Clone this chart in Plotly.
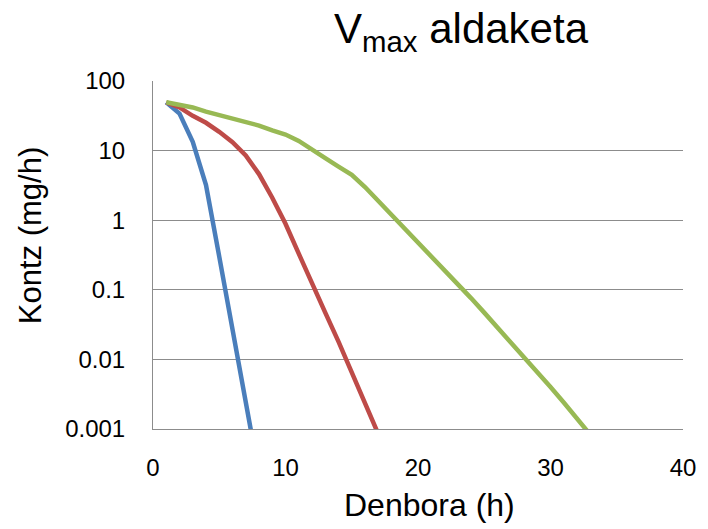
import plotly.graph_objects as go

# Time points (h) and concentrations (mg/h) for the three Vmax cases
t_blue = [1, 2, 3, 4, 5, 6, 7, 8]
c_blue = [49.4, 34.0, 13.4, 3.2, 0.30, 0.028, 0.0025, 0.00022]

t_red = list(range(1, 18))
c_red = [49.4, 41.7, 31.6, 25.1, 18.6, 13.2, 8.5, 4.6, 2.1, 0.89,
         0.33, 0.12, 0.047, 0.018, 0.0066, 0.0024, 0.00085]

t_green = list(range(1, 34))
c_green = [49.4, 45.7, 41.7, 36.3, 32.4, 28.8, 25.7, 22.9, 19.5, 17.0,
           13.8, 10.2, 7.8, 5.9, 4.5, 3.0, 1.9, 1.23, 0.78, 0.49,
           0.31, 0.195, 0.123, 0.076, 0.047, 0.029, 0.018, 0.011, 0.0066, 0.0040,
           0.0024, 0.0014, 0.00083]

y_tickvals = [0.001, 0.01, 0.1, 1, 10, 100]
y_ticktext = ["0.001", "0.01", "0.1", "1", "10", "100"]
x_tickvals = [0, 10, 20, 30, 40]

series = [
    (t_blue, c_blue, "#4A7EBB"),
    (t_red, c_red, "#BE4B48"),
    (t_green, c_green, "#98B954"),
]

fig = go.Figure()
for t, c, col in series:
    fig.add_trace(go.Scatter(x=t, y=c, mode="lines",
                             line=dict(color=col, width=4.5),
                             showlegend=False, hoverinfo="skip"))

font_family = "Liberation Sans, Arial, sans-serif"
grid_col = "#8C8C8C"

fig.update_layout(
    width=708, height=529,
    margin=dict(l=153, r=20, t=81, b=100),
    paper_bgcolor="white", plot_bgcolor="white",
    font=dict(family=font_family, color="black"),
    title=dict(text="V<sub>max</sub> aldaketa",
               font=dict(size=42, family=font_family, color="black"),
               x=461 / 708, xref="container", xanchor="center",
               y=1 - 14 / 529, yref="container", yanchor="top"),
    xaxis=dict(range=[0, 40], tickvals=x_tickvals,
               showgrid=False, zeroline=False,
               showline=True, linecolor=grid_col, linewidth=1,
               ticks="", tickfont=dict(size=24), ticklabelstandoff=17),
    yaxis=dict(type="log", range=[-3, 2],
               tickvals=y_tickvals, ticktext=y_ticktext,
               showgrid=True, gridcolor=grid_col, gridwidth=1,
               zeroline=False,
               showline=True, linecolor=grid_col, linewidth=1,
               ticks="", tickfont=dict(size=24), ticklabelstandoff=22),
    annotations=[
        dict(text="Denbora (h)", xref="paper", yref="paper",
             x=(432 - 153) / 535, y=-(505 - 429) / 348,
             xanchor="center", yanchor="middle", showarrow=False,
             font=dict(size=32)),
        dict(text="Kontz (mg/h)", xref="paper", yref="paper",
             x=-(153 - 29) / 535, y=(429 - 236) / 348,
             xanchor="center", yanchor="middle", showarrow=False,
             textangle=-90, font=dict(size=31)),
    ],
)

fig.write_html("out.html")
